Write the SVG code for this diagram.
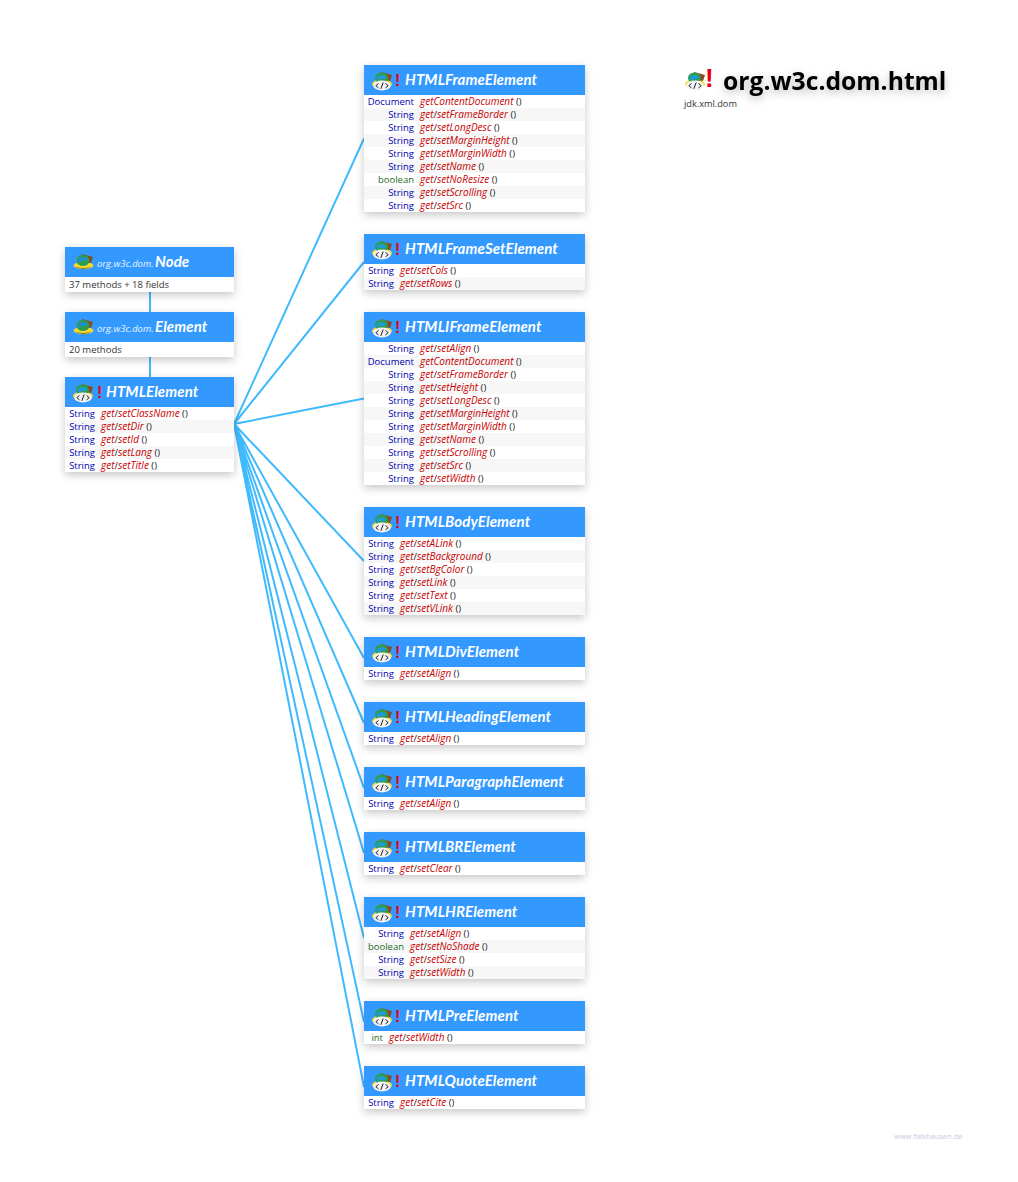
<svg xmlns="http://www.w3.org/2000/svg" width="1018" height="1182" viewBox="0 0 1018 1182">
<style>
text{font-family:"Open Sans","Noto Sans","Liberation Sans",sans-serif;white-space:pre}
.h{fill:#3399ff}
.b{fill:#fff;filter:url(#s)}
.alt{fill:#f7f7f7}
.t{font-family:Lato,"Open Sans",sans-serif;font-size:15px;font-weight:700;font-style:italic;fill:#fff;letter-spacing:.12px}
.pk{font-size:9.5px;font-style:italic;fill:#e8f2ff}
.ex{font-family:"Liberation Sans",sans-serif;font-size:16px;font-weight:700;fill:#e8000d}
.r{font-size:9.5px}
.ty{fill:#0000b0;text-anchor:end}
.bo{fill:#1f6b1f;text-anchor:end}
.m{fill:#c80000;font-style:italic;font-size:10px}
.g{fill:#222}
.p{fill:#333}
.c{stroke:#40baff;stroke-width:2;fill:none}
</style>
<defs>
<filter id="s" x="-10%" y="-20%" width="120%" height="150%"><feDropShadow dx="0" dy="3" stdDeviation="4" flood-color="#000" flood-opacity="0.22"/></filter>
<filter id="ts" x="-10%" y="-50%" width="120%" height="220%"><feDropShadow dx="0" dy="3" stdDeviation="4" flood-color="#000" flood-opacity="0.28"/></filter>
<symbol id="pkg" viewBox="0 0 22 20" overflow="visible">
<ellipse cx="10.5" cy="14.500" rx="10" ry="3.600" fill="#f6dc2e"/>
<path d="M9 3 L20 6 L18 12 L8 10Z" fill="#8a4a28"/>
<ellipse cx="10" cy="9.500" rx="6.500" ry="5.500" fill="#2e9e4a"/>
<path d="M5 8 Q10 4 15 8 Q12 11 9 10 Q7 10 6 12Z" fill="#1f8fd0"/>
<path d="M1 15 Q10 19 20 15 Q10 21 1 15Z" fill="#8a6a1a"/>
</symbol>
<symbol id="cls" viewBox="0 0 22 20" overflow="visible">
<ellipse cx="10" cy="13" rx="10" ry="4.500" fill="#f6dc2e"/>
<path d="M9 1 L20 4 L18 10 L8 8Z" fill="#8a4a28"/>
<ellipse cx="9.500" cy="7" rx="6.500" ry="5.500" fill="#2e9e4a"/>
<path d="M4.500 6 Q9.500 2 14.500 6 Q12 9 9 8 Q7 8 5.500 10Z" fill="#1f9ad8"/>
<ellipse cx="10" cy="14.500" rx="8.800" ry="5" fill="#f4f4f4"/>
<path d="M6.500 12.500 L3.800 14.700 L6.500 16.900 M13.500 12.500 L16.200 14.700 L13.500 16.900 M11.200 11.500 L8.800 17.900" stroke="#222" stroke-width="1" fill="none"/>
</symbol>
</defs>
<rect width="1018" height="1182" fill="#fff"/>
<g id="connectors">
<path class="c" d="M150 292V312M150 357V377"/>
<path class="c" d="M234 424L364 138.500M234 424L364 262M234 424L364 398.500M234 424L364 561M234 424L364 658M234 424L364 723M234 424L364 788M234 424L364 853M234 424L364 938M234 424L364 1022M234 424L364 1087"/>
</g>
<g id="title">
<use href="#cls" x="685" y="71" width="22" height="20"/>
<text x="705" y="87" font-size="26" font-weight="700" fill="#e8000d" style="font-family:'Liberation Sans',sans-serif">!</text>
<text x="723" y="90" font-size="24.700" font-weight="700" fill="#000" filter="url(#ts)">org.w3c.dom.html</text>
<text x="684" y="107" font-size="9.200" fill="#333">jdk.xml.dom</text>
</g>
<g id="node-Node">
<rect class="b" x="65" y="247" width="169" height="45"/><rect class="h" x="65" y="247" width="169" height="30"/>
<use href="#pkg" x="73" y="251" width="22" height="20"/>
<text x="97" y="267" class="pk">org.w3c.dom.</text><text x="155" y="267" class="t">Node</text>
<text x="69" y="288" class="r p">37 methods + 18 fields</text>
</g>
<g id="node-Element">
<rect class="b" x="65" y="312" width="169" height="45"/><rect class="h" x="65" y="312" width="169" height="30"/>
<use href="#pkg" x="73" y="316" width="22" height="20"/>
<text x="97" y="332" class="pk">org.w3c.dom.</text><text x="155" y="332" class="t">Element</text>
<text x="69" y="353" class="r p">20 methods</text>
</g>
<g id="node-HTMLElement">
<rect class="b" x="65" y="377" width="169" height="95"/><rect class="h" x="65" y="377" width="169" height="30"/>
<use href="#cls" x="73" y="383" width="22" height="20"/><text x="97" y="398" class="ex">!</text>
<text x="106" y="397" class="t">HTMLElement</text>
<rect class="alt" x="65" y="420" width="169" height="13"/><rect class="alt" x="65" y="446" width="169" height="13"/>
<g class="r"><text x="95" y="417" class="ty">String</text><text x="101" y="417"><tspan class="m">get</tspan><tspan class="g">/</tspan><tspan class="m">setClassName</tspan><tspan class="g"> ()</tspan></text>
<text x="95" y="430" class="ty">String</text><text x="101" y="430"><tspan class="m">get</tspan><tspan class="g">/</tspan><tspan class="m">setDir</tspan><tspan class="g"> ()</tspan></text>
<text x="95" y="443" class="ty">String</text><text x="101" y="443"><tspan class="m">get</tspan><tspan class="g">/</tspan><tspan class="m">setId</tspan><tspan class="g"> ()</tspan></text>
<text x="95" y="456" class="ty">String</text><text x="101" y="456"><tspan class="m">get</tspan><tspan class="g">/</tspan><tspan class="m">setLang</tspan><tspan class="g"> ()</tspan></text>
<text x="95" y="469" class="ty">String</text><text x="101" y="469"><tspan class="m">get</tspan><tspan class="g">/</tspan><tspan class="m">setTitle</tspan><tspan class="g"> ()</tspan></text></g>
</g>
<g id="node-HTMLFrameElement">
<rect class="b" x="364" y="65" width="221" height="147"/><rect class="h" x="364" y="65" width="221" height="30"/>
<use href="#cls" x="372" y="71" width="22" height="20"/><text x="395" y="86" class="ex">!</text>
<text x="405" y="85" class="t">HTMLFrameElement</text>
<rect class="alt" x="364" y="108" width="221" height="13"/><rect class="alt" x="364" y="134" width="221" height="13"/><rect class="alt" x="364" y="160" width="221" height="13"/><rect class="alt" x="364" y="186" width="221" height="13"/>
<g class="r"><text x="414" y="105" class="ty">Document</text><text x="420" y="105"><tspan class="m">getContentDocument</tspan><tspan class="g"> ()</tspan></text>
<text x="414" y="118" class="ty">String</text><text x="420" y="118"><tspan class="m">get</tspan><tspan class="g">/</tspan><tspan class="m">setFrameBorder</tspan><tspan class="g"> ()</tspan></text>
<text x="414" y="131" class="ty">String</text><text x="420" y="131"><tspan class="m">get</tspan><tspan class="g">/</tspan><tspan class="m">setLongDesc</tspan><tspan class="g"> ()</tspan></text>
<text x="414" y="144" class="ty">String</text><text x="420" y="144"><tspan class="m">get</tspan><tspan class="g">/</tspan><tspan class="m">setMarginHeight</tspan><tspan class="g"> ()</tspan></text>
<text x="414" y="157" class="ty">String</text><text x="420" y="157"><tspan class="m">get</tspan><tspan class="g">/</tspan><tspan class="m">setMarginWidth</tspan><tspan class="g"> ()</tspan></text>
<text x="414" y="170" class="ty">String</text><text x="420" y="170"><tspan class="m">get</tspan><tspan class="g">/</tspan><tspan class="m">setName</tspan><tspan class="g"> ()</tspan></text>
<text x="414" y="183" class="bo">boolean</text><text x="420" y="183"><tspan class="m">get</tspan><tspan class="g">/</tspan><tspan class="m">setNoResize</tspan><tspan class="g"> ()</tspan></text>
<text x="414" y="196" class="ty">String</text><text x="420" y="196"><tspan class="m">get</tspan><tspan class="g">/</tspan><tspan class="m">setScrolling</tspan><tspan class="g"> ()</tspan></text>
<text x="414" y="209" class="ty">String</text><text x="420" y="209"><tspan class="m">get</tspan><tspan class="g">/</tspan><tspan class="m">setSrc</tspan><tspan class="g"> ()</tspan></text></g>
</g>
<g id="node-HTMLFrameSetElement">
<rect class="b" x="364" y="234" width="221" height="56"/><rect class="h" x="364" y="234" width="221" height="30"/>
<use href="#cls" x="372" y="240" width="22" height="20"/><text x="395" y="255" class="ex">!</text>
<text x="405" y="254" class="t">HTMLFrameSetElement</text>
<rect class="alt" x="364" y="277" width="221" height="13"/>
<g class="r"><text x="394" y="274" class="ty">String</text><text x="400" y="274"><tspan class="m">get</tspan><tspan class="g">/</tspan><tspan class="m">setCols</tspan><tspan class="g"> ()</tspan></text>
<text x="394" y="287" class="ty">String</text><text x="400" y="287"><tspan class="m">get</tspan><tspan class="g">/</tspan><tspan class="m">setRows</tspan><tspan class="g"> ()</tspan></text></g>
</g>
<g id="node-HTMLIFrameElement">
<rect class="b" x="364" y="312" width="221" height="173"/><rect class="h" x="364" y="312" width="221" height="30"/>
<use href="#cls" x="372" y="318" width="22" height="20"/><text x="395" y="333" class="ex">!</text>
<text x="405" y="332" class="t">HTMLIFrameElement</text>
<rect class="alt" x="364" y="355" width="221" height="13"/><rect class="alt" x="364" y="381" width="221" height="13"/><rect class="alt" x="364" y="407" width="221" height="13"/><rect class="alt" x="364" y="433" width="221" height="13"/><rect class="alt" x="364" y="459" width="221" height="13"/>
<g class="r"><text x="414" y="352" class="ty">String</text><text x="420" y="352"><tspan class="m">get</tspan><tspan class="g">/</tspan><tspan class="m">setAlign</tspan><tspan class="g"> ()</tspan></text>
<text x="414" y="365" class="ty">Document</text><text x="420" y="365"><tspan class="m">getContentDocument</tspan><tspan class="g"> ()</tspan></text>
<text x="414" y="378" class="ty">String</text><text x="420" y="378"><tspan class="m">get</tspan><tspan class="g">/</tspan><tspan class="m">setFrameBorder</tspan><tspan class="g"> ()</tspan></text>
<text x="414" y="391" class="ty">String</text><text x="420" y="391"><tspan class="m">get</tspan><tspan class="g">/</tspan><tspan class="m">setHeight</tspan><tspan class="g"> ()</tspan></text>
<text x="414" y="404" class="ty">String</text><text x="420" y="404"><tspan class="m">get</tspan><tspan class="g">/</tspan><tspan class="m">setLongDesc</tspan><tspan class="g"> ()</tspan></text>
<text x="414" y="417" class="ty">String</text><text x="420" y="417"><tspan class="m">get</tspan><tspan class="g">/</tspan><tspan class="m">setMarginHeight</tspan><tspan class="g"> ()</tspan></text>
<text x="414" y="430" class="ty">String</text><text x="420" y="430"><tspan class="m">get</tspan><tspan class="g">/</tspan><tspan class="m">setMarginWidth</tspan><tspan class="g"> ()</tspan></text>
<text x="414" y="443" class="ty">String</text><text x="420" y="443"><tspan class="m">get</tspan><tspan class="g">/</tspan><tspan class="m">setName</tspan><tspan class="g"> ()</tspan></text>
<text x="414" y="456" class="ty">String</text><text x="420" y="456"><tspan class="m">get</tspan><tspan class="g">/</tspan><tspan class="m">setScrolling</tspan><tspan class="g"> ()</tspan></text>
<text x="414" y="469" class="ty">String</text><text x="420" y="469"><tspan class="m">get</tspan><tspan class="g">/</tspan><tspan class="m">setSrc</tspan><tspan class="g"> ()</tspan></text>
<text x="414" y="482" class="ty">String</text><text x="420" y="482"><tspan class="m">get</tspan><tspan class="g">/</tspan><tspan class="m">setWidth</tspan><tspan class="g"> ()</tspan></text></g>
</g>
<g id="node-HTMLBodyElement">
<rect class="b" x="364" y="507" width="221" height="108"/><rect class="h" x="364" y="507" width="221" height="30"/>
<use href="#cls" x="372" y="513" width="22" height="20"/><text x="395" y="528" class="ex">!</text>
<text x="405" y="527" class="t">HTMLBodyElement</text>
<rect class="alt" x="364" y="550" width="221" height="13"/><rect class="alt" x="364" y="576" width="221" height="13"/><rect class="alt" x="364" y="602" width="221" height="13"/>
<g class="r"><text x="394" y="547" class="ty">String</text><text x="400" y="547"><tspan class="m">get</tspan><tspan class="g">/</tspan><tspan class="m">setALink</tspan><tspan class="g"> ()</tspan></text>
<text x="394" y="560" class="ty">String</text><text x="400" y="560"><tspan class="m">get</tspan><tspan class="g">/</tspan><tspan class="m">setBackground</tspan><tspan class="g"> ()</tspan></text>
<text x="394" y="573" class="ty">String</text><text x="400" y="573"><tspan class="m">get</tspan><tspan class="g">/</tspan><tspan class="m">setBgColor</tspan><tspan class="g"> ()</tspan></text>
<text x="394" y="586" class="ty">String</text><text x="400" y="586"><tspan class="m">get</tspan><tspan class="g">/</tspan><tspan class="m">setLink</tspan><tspan class="g"> ()</tspan></text>
<text x="394" y="599" class="ty">String</text><text x="400" y="599"><tspan class="m">get</tspan><tspan class="g">/</tspan><tspan class="m">setText</tspan><tspan class="g"> ()</tspan></text>
<text x="394" y="612" class="ty">String</text><text x="400" y="612"><tspan class="m">get</tspan><tspan class="g">/</tspan><tspan class="m">setVLink</tspan><tspan class="g"> ()</tspan></text></g>
</g>
<g id="node-HTMLDivElement">
<rect class="b" x="364" y="637" width="221" height="43"/><rect class="h" x="364" y="637" width="221" height="30"/>
<use href="#cls" x="372" y="643" width="22" height="20"/><text x="395" y="658" class="ex">!</text>
<text x="405" y="657" class="t">HTMLDivElement</text>
<g class="r"><text x="394" y="677" class="ty">String</text><text x="400" y="677"><tspan class="m">get</tspan><tspan class="g">/</tspan><tspan class="m">setAlign</tspan><tspan class="g"> ()</tspan></text></g>
</g>
<g id="node-HTMLHeadingElement">
<rect class="b" x="364" y="702" width="221" height="43"/><rect class="h" x="364" y="702" width="221" height="30"/>
<use href="#cls" x="372" y="708" width="22" height="20"/><text x="395" y="723" class="ex">!</text>
<text x="405" y="722" class="t">HTMLHeadingElement</text>
<g class="r"><text x="394" y="742" class="ty">String</text><text x="400" y="742"><tspan class="m">get</tspan><tspan class="g">/</tspan><tspan class="m">setAlign</tspan><tspan class="g"> ()</tspan></text></g>
</g>
<g id="node-HTMLParagraphElement">
<rect class="b" x="364" y="767" width="221" height="43"/><rect class="h" x="364" y="767" width="221" height="30"/>
<use href="#cls" x="372" y="773" width="22" height="20"/><text x="395" y="788" class="ex">!</text>
<text x="405" y="787" class="t">HTMLParagraphElement</text>
<g class="r"><text x="394" y="807" class="ty">String</text><text x="400" y="807"><tspan class="m">get</tspan><tspan class="g">/</tspan><tspan class="m">setAlign</tspan><tspan class="g"> ()</tspan></text></g>
</g>
<g id="node-HTMLBRElement">
<rect class="b" x="364" y="832" width="221" height="43"/><rect class="h" x="364" y="832" width="221" height="30"/>
<use href="#cls" x="372" y="838" width="22" height="20"/><text x="395" y="853" class="ex">!</text>
<text x="405" y="852" class="t">HTMLBRElement</text>
<g class="r"><text x="394" y="872" class="ty">String</text><text x="400" y="872"><tspan class="m">get</tspan><tspan class="g">/</tspan><tspan class="m">setClear</tspan><tspan class="g"> ()</tspan></text></g>
</g>
<g id="node-HTMLHRElement">
<rect class="b" x="364" y="897" width="221" height="82"/><rect class="h" x="364" y="897" width="221" height="30"/>
<use href="#cls" x="372" y="903" width="22" height="20"/><text x="395" y="918" class="ex">!</text>
<text x="405" y="917" class="t">HTMLHRElement</text>
<rect class="alt" x="364" y="940" width="221" height="13"/><rect class="alt" x="364" y="966" width="221" height="13"/>
<g class="r"><text x="404" y="937" class="ty">String</text><text x="410" y="937"><tspan class="m">get</tspan><tspan class="g">/</tspan><tspan class="m">setAlign</tspan><tspan class="g"> ()</tspan></text>
<text x="404" y="950" class="bo">boolean</text><text x="410" y="950"><tspan class="m">get</tspan><tspan class="g">/</tspan><tspan class="m">setNoShade</tspan><tspan class="g"> ()</tspan></text>
<text x="404" y="963" class="ty">String</text><text x="410" y="963"><tspan class="m">get</tspan><tspan class="g">/</tspan><tspan class="m">setSize</tspan><tspan class="g"> ()</tspan></text>
<text x="404" y="976" class="ty">String</text><text x="410" y="976"><tspan class="m">get</tspan><tspan class="g">/</tspan><tspan class="m">setWidth</tspan><tspan class="g"> ()</tspan></text></g>
</g>
<g id="node-HTMLPreElement">
<rect class="b" x="364" y="1001" width="221" height="43"/><rect class="h" x="364" y="1001" width="221" height="30"/>
<use href="#cls" x="372" y="1007" width="22" height="20"/><text x="395" y="1022" class="ex">!</text>
<text x="405" y="1021" class="t">HTMLPreElement</text>
<g class="r"><text x="383" y="1041" class="bo">int</text><text x="389" y="1041"><tspan class="m">get</tspan><tspan class="g">/</tspan><tspan class="m">setWidth</tspan><tspan class="g"> ()</tspan></text></g>
</g>
<g id="node-HTMLQuoteElement">
<rect class="b" x="364" y="1066" width="221" height="43"/><rect class="h" x="364" y="1066" width="221" height="30"/>
<use href="#cls" x="372" y="1072" width="22" height="20"/><text x="395" y="1087" class="ex">!</text>
<text x="405" y="1086" class="t">HTMLQuoteElement</text>
<g class="r"><text x="394" y="1106" class="ty">String</text><text x="400" y="1106"><tspan class="m">get</tspan><tspan class="g">/</tspan><tspan class="m">setCite</tspan><tspan class="g"> ()</tspan></text></g>
</g>
<text x="894" y="1139" font-size="7.500" fill="#c8c8e0">www.falkhausen.de</text>
</svg>
